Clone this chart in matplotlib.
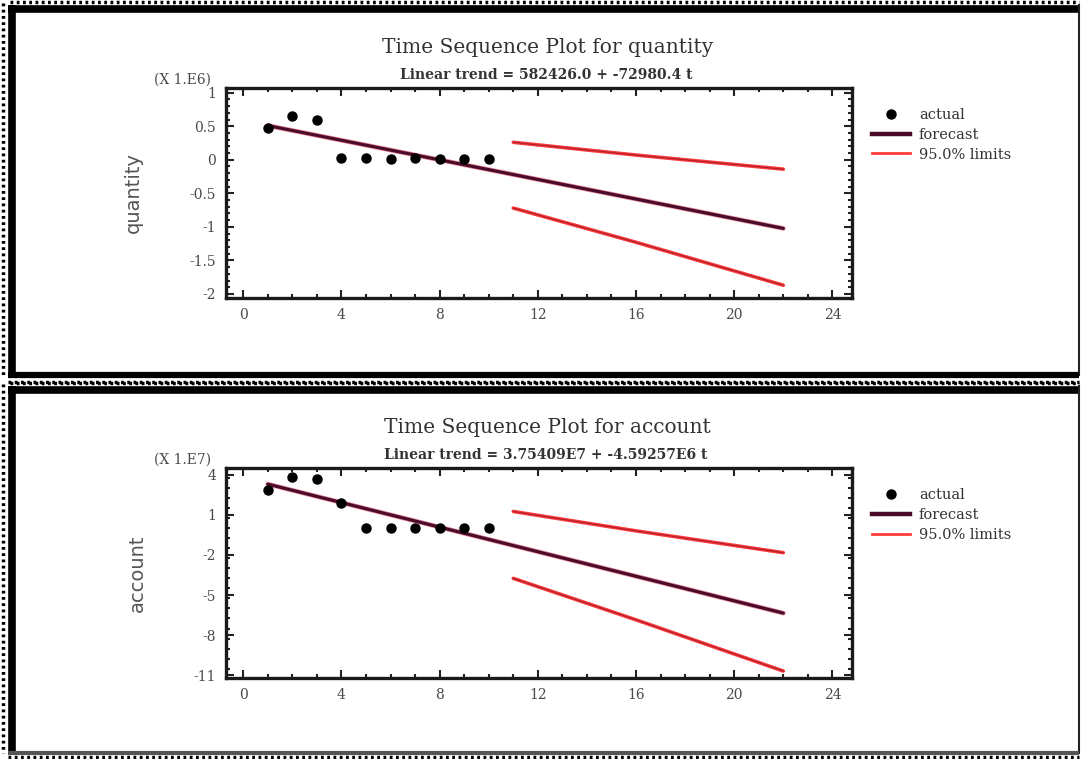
import matplotlib
matplotlib.use('Agg')
import matplotlib.pyplot as plt
from matplotlib.ticker import MultipleLocator, FixedLocator

# observed periods and forecast horizon
t_obs = [1, 2, 3, 4, 5, 6, 7, 8, 9, 10]
t_fcst = [1, 22]
t_lim = [11, 16, 22]

# quantity series
quantity_actual = [480000, 650000, 600000, 20000, 20000, 10000, 20000, 10000, 10000, 10000]
quantity_trend = (582426.0, -72980.4)
quantity_upper = [260000, 70000, -140000]
quantity_lower = [-720000, -1230000, -1870000]

# account series
account_actual = [2.85e7, 3.8e7, 3.7e7, 1.85e7, 0.12e6, 0.05e6, 0.1e6, 0.05e6, 0.1e6, 0.05e6]
account_trend = (3.75409e7, -4.59257e6)
account_upper = [1.25e7, -0.2e7, -1.83e7]
account_lower = [-3.75e7, -6.85e7, -10.68e7]

SERIF = ['DejaVu Serif']
GRAY = '#4a4a4a'
W, H = 1082, 759

fig = plt.figure(figsize=(W / 100, H / 100), dpi=100)

# page background with the two framed panels
bg = fig.add_axes([0, 0, 1, 1], zorder=-5)
bg.set_xlim(0, W)
bg.set_ylim(H, 0)
bg.axis('off')


def frame(y0, y1, bottom_gray=False):
    # thick black top and left edges, thin right edge
    bg.plot([8, W - 3], [y0 + 3.5, y0 + 3.5], color='black', lw=5.5, solid_capstyle='butt')
    bg.plot([11.5, 11.5], [y0, y1], color='black', lw=5.5, solid_capstyle='butt')
    bg.plot([W - 3, W - 3], [y0, y1], color='#222222', lw=1.5)
    bg.plot([8, W - 3], [y1, y1], color='#555555' if bottom_gray else 'black',
            lw=3 if bottom_gray else 4.5, solid_capstyle='butt')
    # dotted rim outside the black edges
    bg.plot([10, W - 3], [y0 - 3, y0 - 3], color='black', lw=2.5, dashes=(0.8, 1.0))
    bg.plot([3, 3], [y0 - 2, y1], color='black', lw=2.5, dashes=(0.8, 1.0))


frame(5, 375)
frame(386, 753, bottom_gray=True)
bg.plot([8, W - 3], [381.5, 381.5], color='black', lw=2.5, dashes=(0.8, 1.0))
bg.plot([8, W - 3], [757, 757], color='black', lw=2.5, dashes=(0.8, 1.0))


def draw_panel(rect, name, actual, trend, upper, lower, scale, scale_txt, trend_txt,
               ylim, ymajor, yminor):
    ax = fig.add_axes(rect)
    a, b = trend
    fc = [(a + b * t) / scale for t in t_fcst]
    act = [v / scale for v in actual]
    up = [v / scale for v in upper]
    lo = [v / scale for v in lower]

    ax.plot(t_lim, up, color='#ff3b3b', lw=2.6, solid_capstyle='round')
    ax.plot(t_lim, up, color='#b3202e', lw=0.9)
    ax.plot(t_lim, lo, color='#ff3b3b', lw=2.6, solid_capstyle='round')
    ax.plot(t_lim, lo, color='#b3202e', lw=0.9)
    ax.plot(t_fcst, fc, color='#e04060', lw=3.4, alpha=0.6, solid_capstyle='round')
    ax.plot(t_fcst, fc, color='#4a0c2a', lw=2.3, solid_capstyle='round')
    ax.plot(t_obs, act, 'o', color='black', ms=6.5)

    ax.set_xlim(-0.7, 24.8)
    ax.set_ylim(*ylim)
    ax.xaxis.set_major_locator(MultipleLocator(4))
    ax.xaxis.set_minor_locator(MultipleLocator(1))
    ax.yaxis.set_major_locator(FixedLocator(ymajor))
    ax.yaxis.set_minor_locator(MultipleLocator(yminor))
    ax.set_yticks(ymajor)
    ax.set_yticklabels([f'{v:g}' for v in ymajor])
    ax.tick_params(which='both', direction='in', top=True, right=True, width=1.5,
                   color='#222222', labelcolor=GRAY, labelsize=10)
    ax.tick_params(which='major', length=6, pad=7)
    ax.tick_params(which='minor', length=3)
    for lab in ax.get_xticklabels() + ax.get_yticklabels():
        lab.set_family(SERIF)
    for sp in ax.spines.values():
        sp.set_linewidth(2.4)
        sp.set_color('#1a1a1a')

    ax.set_ylabel(name, family='DejaVu Sans', fontsize=14, color='#555555', labelpad=34)
    ax.text(0.514, 1.195, f'Time Sequence Plot for {name}', transform=ax.transAxes,
            ha='center', va='center', family=SERIF, fontsize=14.5, color='#333333')
    ax.text(0.511, 1.062, trend_txt, transform=ax.transAxes, ha='center', va='center',
            family=SERIF, fontsize=10, fontweight='bold', color='#333333')
    ax.text(-0.069, 1.04, scale_txt, transform=ax.transAxes, ha='center', va='center',
            family=SERIF, fontsize=10, color=GRAY)

    # legend entries
    h_act, = ax.plot([], [], 'o', color='black', ms=6.5)
    h_fc, = ax.plot([], [], color='#4a0c2a', lw=3.2)
    h_lim, = ax.plot([], [], color='#ff3b3b', lw=2)
    leg = ax.legend([h_act, h_fc, h_lim], ['actual', 'forecast', '95.0% limits'],
                    loc='upper left', bbox_to_anchor=(1.032, 0.905), frameon=False,
                    borderpad=0, borderaxespad=0, handlelength=2.6, handletextpad=0.6,
                    labelspacing=0.4, prop={'family': SERIF, 'size': 10.5})
    for txt in leg.get_texts():
        txt.set_color('#333333')
    return ax


draw_panel([0.2089, 0.6074, 0.5786, 0.2767], 'quantity', quantity_actual, quantity_trend,
           quantity_upper, quantity_lower, 1e6, '(X 1.E6)',
           'Linear trend = 582426.0 + -72980.4 t',
           (-2.06, 1.07), [-2, -1.5, -1, -0.5, 0, 0.5, 1], 0.1)

draw_panel([0.2089, 0.1067, 0.5786, 0.2767], 'account', account_actual, account_trend,
           account_upper, account_lower, 1e7, '(X 1.E7)',
           'Linear trend = 3.75409E7 + -4.59257E6 t',
           (-11.2, 4.5), [-11, -8, -5, -2, 1, 4], 0.75)

fig.savefig('out.png', dpi=100)
